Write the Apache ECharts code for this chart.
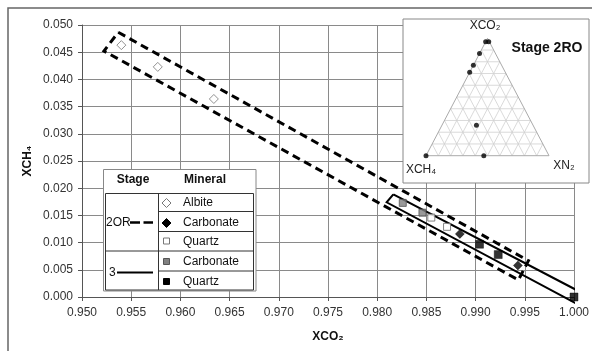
<!DOCTYPE html>
<html>
<head>
<meta charset="utf-8">
<script src="https://cdn.jsdelivr.net/npm/echarts@6/dist/echarts.min.js"></script>
<style>html,body{margin:0;padding:0;background:#fff}#c{width:592px;height:351px}</style>
</head>
<body>
<div id="c"></div>
<script>
// ---------- data ----------
var xTicks = ['0.950','0.955','0.960','0.965','0.970','0.975','0.980','0.985','0.990','0.995','1.000'];
var yTicks = ['0.000','0.005','0.010','0.015','0.020','0.025','0.030','0.035','0.040','0.045','0.050'];
// [XCO2, XCH4]
var albite2OR    = [[0.9540,0.0463],[0.9577,0.0423],[0.9634,0.0364]];
var carbonate2OR = [[0.9884,0.0116],[0.9943,0.0058]];
var quartz2OR    = [[0.9855,0.0146],[0.9871,0.0129]];
var carbonate3   = [[0.9826,0.0173],[0.9846,0.0155]];
var quartz3      = [[0.9904,0.0097],[0.9923,0.0078],[1.0000,0.0000]];
// field outlines (corner values in data units)
var dashedBox = [[0.95368,0.04866],[0.99537,0.00667],[0.99435,0.00313],[0.95223,0.04522],[0.95368,0.04866]];
var solidBox  = [[0.98164,0.01888],[1.00142,0.00018],[1.00081,-0.00175],[0.98096,0.01741],[0.98164,0.01888]];
// ternary inset: [XCO2, XCH4, XN2]
var ternaryPoints = [[0.97,0.03,0.00],[0.97,0.005,0.025],[0.87,0.13,0.00],[0.77,0.23,0.00],[0.71,0.29,0.00],[0.26,0.46,0.28],[0.00,1.00,0.00],[0.00,0.53,0.47]];
var ternaryTicks = [0.1,0.2,0.3,0.4,0.5,0.6,0.7,0.8,0.9];

// ---------- helpers ----------
function tern2xy(p){ return [p[2] + p[0]/2, p[0]]; }
var ternLines = [];
ternaryTicks.forEach(function(t){
  ternLines.push([t/2, t, 1 - t/2, t]);          // const XCO2
  ternLines.push([t, 0, t + (1-t)/2, 1-t]);      // const XN2
  ternLines.push([1-t, 0, (1-t)/2, 1-t]);        // const XCH4
});
var triangle = [[0,0],[1,0],[0.5,1],[0,0]];

var FONT = '"Liberation Sans", Arial, "DejaVu Sans", sans-serif';
var chart = echarts.init(document.getElementById('c'), null, {renderer:'canvas'});

var lineSeg = function(x1,y1,x2,y2,color,w,z){
  return {type:'line', z: z||3, shape:{x1:x1,y1:y1,x2:x2,y2:y2}, style:{stroke:color, lineWidth:w||1}};
};
var txt = function(x,y,text,opt){
  opt = opt||{};
  return {type:'text', z: 4, x:x, y:y, rotation: opt.rot||0, style:{text:text, fill: opt.color||'#111', font: (opt.bold?'bold ':'') + (opt.size||12) + 'px ' + FONT, textAlign: opt.align||'left', textVerticalAlign:'middle'}};
};

var graphics = [
  // outer frame
  {type:'polyline', z:1, shape:{points:[[8,351],[8,8],[592,8]]}, style:{stroke:'#666', lineWidth:1.5, fill:null}},
  // axis titles
  txt(328,337,'XCO₂',{bold:true,align:'center',size:12}),
  txt(28,161,'XCH₄',{bold:true,align:'center',size:12,rot:Math.PI/2}),
  // inset box
  {type:'rect', z:1, shape:{x:403,y:19,width:186,height:164}, style:{fill:'#fff', stroke:'#888', lineWidth:1}},
  txt(485,26,'XCO₂',{align:'center',size:12,color:'#222'}),
  txt(547,48,'Stage 2RO',{bold:true,align:'center',size:14}),
  txt(421,170,'XCH₄',{align:'center',size:12,color:'#222'}),
  txt(564,166,'XN₂',{align:'center',size:12,color:'#222'}),
  // legend table
  {type:'rect', z:1, shape:{x:103.5,y:169.5,width:152.5,height:121.5}, style:{fill:'#fff', stroke:'#888', lineWidth:1}},
  {type:'rect', z:3, shape:{x:105.5,y:193.5,width:148,height:96.5}, style:{fill:null, stroke:'#333', lineWidth:1}},
  lineSeg(158.5,193.5,158.5,290,'#333',1),
  lineSeg(105.5,251,253.5,251,'#333',1),
  lineSeg(158.5,211.5,253.5,211.5,'#333',1),
  lineSeg(158.5,231.5,253.5,231.5,'#333',1),
  lineSeg(158.5,271,253.5,271,'#333',1),
  txt(133,180,'Stage',{bold:true,align:'center'}),
  txt(205,180,'Mineral',{bold:true,align:'center'}),
  txt(106,223,'2OR',{}),
  lineSeg(130,222.5,140,222.5,'#000',2.5),
  lineSeg(143.5,222.5,153,222.5,'#000',2.5),
  txt(109,273,'3',{}),
  lineSeg(117,272.5,153,272.5,'#000',2),
  {type:'polygon', z:4, shape:{points:[[166.5,198.5],[171,203],[166.5,207.5],[162,203]]}, style:{fill:'#fff', stroke:'#777', lineWidth:1}},
  {type:'polygon', z:4, shape:{points:[[166.5,218.5],[171,223],[166.5,227.5],[162,223]]}, style:{fill:'#000', stroke:'#000', lineWidth:1}},
  {type:'rect', z:4, shape:{x:163.5,y:238,width:6,height:6}, style:{fill:'#fff', stroke:'#777', lineWidth:1}},
  {type:'rect', z:4, shape:{x:163.5,y:258.5,width:6,height:6}, style:{fill:'#808080', stroke:'#555', lineWidth:1}},
  {type:'rect', z:4, shape:{x:163.5,y:278.5,width:6,height:6}, style:{fill:'#000', stroke:'#000', lineWidth:1}},
  txt(183,203,'Albite',{}),
  txt(183,223,'Carbonate',{}),
  txt(183,242,'Quartz',{}),
  txt(183,262,'Carbonate',{}),
  txt(183,282,'Quartz',{})
];

var option = {
  animation:false,
  backgroundColor:'#fff',
  textStyle:{fontFamily:FONT},
  grid:[
    {left:82, top:25, width:493, height:272},
    {left:426, top:38.3, width:123, height:117.4}
  ],
  xAxis:[
    {type:'value', gridIndex:0, min:0.95, max:1.0, interval:0.005,
     axisLine:{show:true, onZero:false, lineStyle:{color:'#555', width:1}},
     axisTick:{show:true, length:4, inside:false, lineStyle:{color:'#555'}},
     splitLine:{show:true, lineStyle:{color:'#8a8a8a', width:1}},
     axisLabel:{margin:10, color:'#333', fontSize:12, fontFamily:FONT,
       formatter:function(v){ var i=Math.round((v-0.95)/0.005); return xTicks[i]||''; }}},
    {type:'value', gridIndex:1, min:0, max:1, show:false}
  ],
  yAxis:[
    {type:'value', gridIndex:0, min:0, max:0.05, interval:0.005,
     axisLine:{show:true, onZero:false, lineStyle:{color:'#555', width:1}},
     axisTick:{show:true, length:4, inside:false, lineStyle:{color:'#555'}},
     splitLine:{show:true, lineStyle:{color:'#8a8a8a', width:1}},
     axisLabel:{margin:9, color:'#333', fontSize:12, fontFamily:FONT,
       formatter:function(v){ var i=Math.round(v/0.005); return yTicks[i]||''; }}},
    {type:'value', gridIndex:1, min:0, max:1, show:false}
  ],
  graphic:{elements:graphics},
  series:[
    {type:'line', xAxisIndex:0, yAxisIndex:0, data:dashedBox, symbol:'none', clip:false, z:3,
     lineStyle:{color:'#000', width:3, type:[8,5], join:'miter'}},
    {type:'line', xAxisIndex:0, yAxisIndex:0, data:solidBox, symbol:'none', clip:false, z:3,
     lineStyle:{color:'#000', width:2, join:'miter'}},
    {type:'scatter', xAxisIndex:0, yAxisIndex:0, data:albite2OR, symbol:'diamond', symbolSize:9, z:4,
     itemStyle:{color:'#fff', borderColor:'#777', borderWidth:1}},
    {type:'scatter', xAxisIndex:0, yAxisIndex:0, data:carbonate2OR, symbol:'diamond', symbolSize:9, z:4,
     itemStyle:{color:'#000', borderColor:'#000', borderWidth:0.5}},
    {type:'scatter', xAxisIndex:0, yAxisIndex:0, data:quartz2OR, symbol:'rect', symbolSize:7, z:4,
     itemStyle:{color:'#fff', borderColor:'#666', borderWidth:1}},
    {type:'scatter', xAxisIndex:0, yAxisIndex:0, data:carbonate3, symbol:'rect', symbolSize:7, z:4,
     itemStyle:{color:'#808080', borderColor:'#555', borderWidth:1}},
    {type:'scatter', xAxisIndex:0, yAxisIndex:0, data:quartz3, symbol:'rect', symbolSize:8, z:4,
     itemStyle:{color:'#000', borderColor:'#000', borderWidth:0.5}},
    // ternary inset
    {type:'custom', xAxisIndex:1, yAxisIndex:1, data:ternLines, z:5, silent:true,
     renderItem:function(params, api){
       var a = api.coord([api.value(0), api.value(1)]);
       var b = api.coord([api.value(2), api.value(3)]);
       return {type:'line', shape:{x1:a[0],y1:a[1],x2:b[0],y2:b[1]}, style:{stroke:'#d0d0d0', lineWidth:0.8}};
     }},
    {type:'line', xAxisIndex:1, yAxisIndex:1, data:triangle, symbol:'none', z:6, clip:false,
     lineStyle:{color:'#aaa', width:1}},
    {type:'scatter', xAxisIndex:1, yAxisIndex:1, data:ternaryPoints.map(tern2xy), symbol:'circle', symbolSize:5, z:7, clip:false,
     itemStyle:{color:'#000'}}
  ]
};
chart.setOption(option);
</script>
</body>
</html>
